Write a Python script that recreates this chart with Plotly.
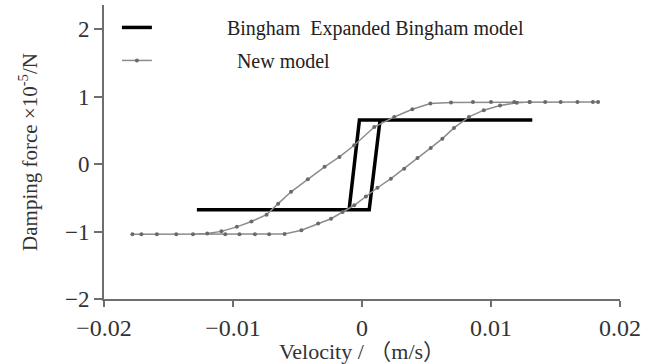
import plotly.graph_objects as go

# Bingham / Expanded Bingham model (closed loop)
bingham_v = [-0.0128, 0.00056, 0.0014, 0.0132, -0.0002, -0.0010, -0.0128]
bingham_f = [-0.675, -0.675, 0.655, 0.655, 0.655, -0.675, -0.675]

# New model hysteresis loop
new_v = [0.0183, 0.0179, 0.0167, 0.0154, 0.0142, 0.0130, 0.0118, 0.0100, 0.0086, 0.0069,
         0.0053, 0.0039, 0.0025, 0.00095, -0.0006, -0.00175, -0.0029, -0.0042, -0.0055,
         -0.0065, -0.0074, -0.00857, -0.0097, -0.0109, -0.0120, -0.0131, -0.0144, -0.0159,
         -0.0171, -0.0178,
         -0.0106, -0.0095, -0.0083, -0.0072, -0.0060, -0.0047, -0.0034, -0.0024, -0.0015,
         -0.0006, 0.0003, 0.0012, 0.00224, 0.00327, 0.0043, 0.00533, 0.00623, 0.00713,
         0.00829, 0.00944, 0.0107, 0.0120, 0.0130]
new_f = [0.92, 0.92, 0.92, 0.92, 0.92, 0.92, 0.92, 0.92, 0.92, 0.915,
         0.898, 0.813, 0.70, 0.55, 0.28, 0.107, -0.04, -0.225, -0.41,
         -0.586, -0.75, -0.85, -0.93, -0.997, -1.03, -1.04, -1.04, -1.04,
         -1.04, -1.04,
         -1.04, -1.04, -1.04, -1.04, -1.035, -0.98, -0.88, -0.81, -0.71,
         -0.61, -0.48, -0.35, -0.215, -0.067, 0.09, 0.24, 0.378, 0.537,
         0.70, 0.80, 0.87, 0.91, 0.92]

x_ticks = [-0.02, -0.01, 0, 0.01, 0.02]
x_ticklabels = ["\u22120.02", "\u22120.01", "0", "0.01", "0.02"]
y_ticks = [-2, -1, 0, 1, 2]
y_ticklabels = ["\u22122", "\u22121", "0", "1", "2"]

serif = "Liberation Serif, Times New Roman, Noto Sans CJK SC, serif"
pad = "\u00a0" * 14

fig = go.Figure()
fig.add_trace(go.Scatter(
    x=bingham_v, y=bingham_f, mode="lines",
    name=pad + "Bingham\u00a0\u00a0Expanded Bingham model",
    line=dict(color="black", width=3.5),
    legendgroup="a",
))
fig.add_trace(go.Scatter(
    x=new_v, y=new_f, mode="lines+markers",
    name=pad + "\u00a0\u00a0New model",
    line=dict(color="#8c8c8c", width=1.5),
    marker=dict(color="#6a6a6a", size=4),
    legendgroup="b",
))

axis_common = dict(
    showline=True, linecolor="#6e6e6e", linewidth=2,
    ticks="outside", tickcolor="#6e6e6e", tickwidth=2,
    showgrid=False, zeroline=False, mirror=False,
)

fig.update_layout(
    width=646, height=364,
    margin=dict(l=104, r=26, t=5, b=65),
    paper_bgcolor="white", plot_bgcolor="white",
    showlegend=True,
    legend=dict(
        x=0.025, y=0.99, xanchor="left", yanchor="top",
        bgcolor="rgba(0,0,0,0)", borderwidth=0,
        font=dict(family=serif, size=20, color="#222222"),
        tracegroupgap=4,
    ),
    xaxis=dict(
        range=[-0.02, 0.02], tickvals=x_ticks, ticktext=x_ticklabels, ticklen=6,
        tickfont=dict(family=serif, size=24, color="#333333"),
        title=dict(text="Velocity / \uff08m/s\uff09", font=dict(family=serif, size=22, color="#333333"), standoff=2),
        **axis_common,
    ),
    yaxis=dict(
        range=[-2, 2.36], tickvals=y_ticks, ticktext=y_ticklabels, ticklen=8,
        tickfont=dict(family=serif, size=23, color="#333333"),
        title=dict(text="Damping force \u00d710<sup>-5</sup>/N", font=dict(family=serif, size=21, color="#333333"), standoff=22),
        **axis_common,
    ),
)

fig.write_html("out.html", config={"displayModeBar": False},
               post_script="document.body.style.margin='0';")
